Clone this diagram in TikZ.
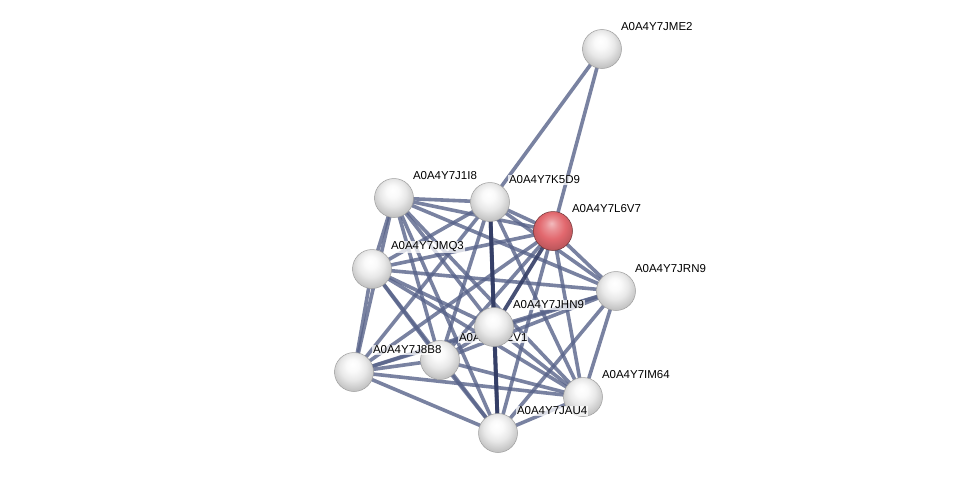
\documentclass[tikz,border=0pt]{standalone}
\usepackage{fontspec}
\setmainfont{Liberation Sans}
\usetikzlibrary{backgrounds}
\definecolor{edgecol}{RGB}{88,99,138}
\definecolor{strongcol}{RGB}{52,62,102}
\definecolor{redball}{RGB}{226,104,110}
\pgfdeclareradialshading{greysphere}{\pgfpoint{-2bp}{10bp}}{%
  color(0bp)=(white); color(8bp)=(white!96!gray); color(17bp)=(gray!18);
  color(27bp)=(gray!45); color(34bp)=(gray!60); color(50bp)=(gray!60)}
\pgfdeclareradialshading{redsphere}{\pgfpoint{-2bp}{10bp}}{%
  color(0bp)=(redball!45!white); color(8bp)=(redball!75!white); color(17bp)=(redball);
  color(27bp)=(redball!85!black); color(34bp)=(redball!65!black); color(50bp)=(redball!65!black)}
\begin{document}
\begin{tikzpicture}[x=1pt,y=-1pt,
  edge/.style={draw=edgecol, draw opacity=0.8, line width=3.6pt},
  strongedge/.style={draw=strongcol, draw opacity=0.9, line width=3.8pt},
  prot/.style={circle, minimum size=39pt, inner sep=0pt, shading=greysphere, draw=gray!75, line width=0.5pt},
  seed/.style={prot, shading=redsphere, draw=redball!50!black},
  lab/.style={anchor=west, font=\fontsize{11.5}{13}\selectfont, fill=white, fill opacity=0.75, text opacity=1, inner sep=0.8pt}
]
\useasboundingbox (0,0) rectangle (975,479);

% nodes and labels (order matters for overlaps)
\node[prot] (A) at (602,49) {};
\node[lab] (Al) at ([shift={(18,-22)}]A.center) {A0A4Y7JME2};
\node[prot] (C) at (394,198) {};
\node[lab] (Cl) at ([shift={(18,-22)}]C.center) {A0A4Y7J1I8};
\node[prot] (B) at (490,202) {};
\node[lab] (Bl) at ([shift={(18,-22)}]B.center) {A0A4Y7K5D9};
\node[seed] (D) at (553,231) {};
\node[lab] (Dl) at ([shift={(18,-22)}]D.center) {A0A4Y7L6V7};
\node[prot] (E) at (372,269) {};
\node[lab] (El) at ([shift={(18,-22)}]E.center) {A0A4Y7JMQ3};
\node[prot] (F) at (616,291) {};
\node[lab] (Fl) at ([shift={(18,-22)}]F.center) {A0A4Y7JRN9};
\node[prot] (H) at (440,360) {};
\node[lab] (Hl) at ([shift={(18,-22)}]H.center) {A0A4Y7J2V1};
\node[prot] (I) at (354,372) {};
\node[lab] (Il) at ([shift={(18,-22)}]I.center) {A0A4Y7J8B8};
\node[prot] (G) at (494,327) {};
\node[lab] (Gl) at ([shift={(18,-22)}]G.center) {A0A4Y7JHN9};
\node[prot] (J) at (583,397) {};
\node[lab] (Jl) at ([shift={(18,-22)}]J.center) {A0A4Y7IM64};
\node[prot] (K) at (498,433) {};
\node[lab] (Kl) at ([shift={(18,-22)}]K.center) {A0A4Y7JAU4};

\begin{pgfonlayer}{background}
  \fill[white] (0,0) rectangle (975,479);
  \draw[edge] (A.center) -- (B.center);
  \draw[edge] (A.center) -- (D.center);
  \foreach \u/\v in {B/C,B/D,B/E,B/F,B/H,B/I,B/J,
                     C/D,C/E,C/F,C/G,C/H,C/I,C/J,C/K,
                     D/E,D/F,D/H,D/I,D/J,D/K,
                     E/F,E/G,E/H,E/I,E/J,E/K,
                     F/G,F/H,F/I,F/J,F/K,
                     G/H,G/I,G/J,
                     H/I,H/J,H/K,
                     I/J,I/K,
                     J/K}
    \draw[edge] (\u.center) -- (\v.center);
  \foreach \u/\v in {B/G,G/K,D/G,B/K}
    \draw[strongedge] (\u.center) -- (\v.center);
\end{pgfonlayer}
\end{tikzpicture}
\end{document}
